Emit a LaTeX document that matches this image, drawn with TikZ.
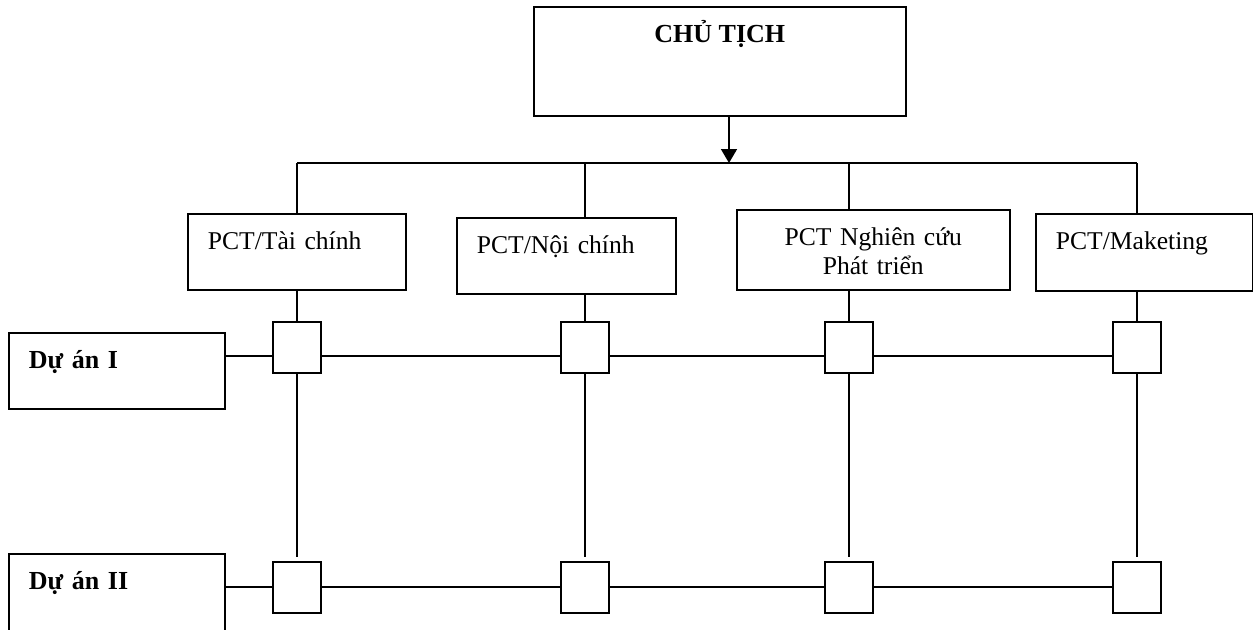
\documentclass[tikz,border=0pt]{standalone}
\usepackage{fontspec}
\setmainfont{Liberation Serif}
\usetikzlibrary{arrows.meta}
\newcommand{\cochu}{\fontsize{12.8}{14.5}\selectfont}
\newcommand{\cochudam}{\fontsize{13}{15}\selectfont\bfseries}

\tikzset{
  khung/.style={draw,line width=0.8pt,inner ysep=0pt,inner xsep=10pt,text height=18pt,align=left,font=\cochu,anchor=north west},
  ovuong/.style={draw,fill=white,line width=0.8pt,minimum width=24pt,minimum height=25.5pt,inner sep=0pt},
  noi/.style={line width=0.8pt}
}

\begin{document}
\begin{tikzpicture}[x=0.5pt,y=-0.5pt]
        \useasboundingbox (0,0) rectangle (1253,629);
        \clip (0,0) rectangle (1253,629);
        \node[khung,minimum width=186pt,text depth=36.5pt,font=\cochudam] (ct) at (533,6) {CHỦ TỊCH};
        \node[khung,text width=89pt,text depth=20pt] (taichinh) at (187,213) {PCT/Tài chính};
        \node[khung,text width=89.5pt,text depth=20pt] (noichinh) at (456,217) {PCT/Nội chính};
        \node[khung,text width=116.5pt,text depth=22pt,align=center] (nghiencuu) at (736,209) {PCT Nghiên cứu\\ Phát triển};
        \node[khung,text width=88.5pt,text depth=20.5pt] (maketing) at (1035,213) {PCT/Maketing};
        \node[khung,text width=88pt,text depth=20pt,font=\cochudam] (duan1) at (8,332) {Dự án I};
        \node[khung,text width=88pt,text depth=24.5pt,font=\cochudam] (duan2) at (8,553) {Dự án II};
        \foreach \i/\x in {1/297,2/585,3/849,4/1137} {
          \node[ovuong] (o1\i) at (\x,347.5) {};
          \node[ovuong] (o2\i) at (\x,587.5) {};
        }
        \coordinate (nhanh) at (729,163);
        \coordinate (hang1) at (0,356);
        \coordinate (hang2) at (0,587);
        \draw[noi,->,>={Triangle[length=7pt,width=8pt]}] (ct.south -| nhanh) -- (nhanh);
        \draw[noi] (o11 |- nhanh) -- (o14 |- nhanh);
        % tu cac PCT xuong hang du an
        \foreach \i/\b in {1/taichinh,2/noichinh,3/nghiencuu,4/maketing} {
          \draw[noi] (o1\i |- nhanh) -- (o1\i |- \b.north);
          \draw[noi] (o1\i |- \b.south) -- (o1\i.north);
          \draw[noi,shorten >=2pt] (o1\i.south) -- (o2\i.north);
        }
        \draw[noi] (duan1.east |- hang1) -- (o11.west |- hang1);
        \draw[noi] (duan2.east |- hang2) -- (o21.west |- hang2);
        \foreach \i/\j in {1/2,2/3,3/4} {
          \draw[noi] (o1\i.east |- hang1) -- (o1\j.west |- hang1);
          \draw[noi] (o2\i.east |- hang2) -- (o2\j.west |- hang2);
        }
\end{tikzpicture}
\end{document}
